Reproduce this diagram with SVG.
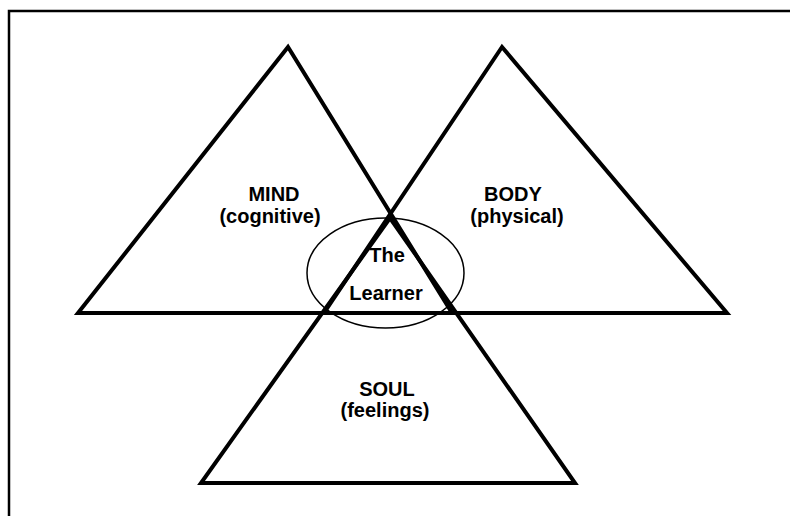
<svg xmlns="http://www.w3.org/2000/svg" width="790" height="516" viewBox="0 0 790 516">
<style>
.tri{fill:none;stroke:#000;stroke-width:4;stroke-linejoin:miter}
.lbl{font-family:"Liberation Sans",Arial,sans-serif;font-weight:bold;font-size:20px;fill:#000;text-anchor:middle}
</style>
<rect width="790" height="516" fill="#fff"/>
<polyline points="9,516 9,11 790,11" fill="none" stroke="#000" stroke-width="2.5"/>
<g id="mind">
<polygon class="tri" points="288,47 78,313 452,313"/>
<text class="lbl" x="274" y="201">MIND</text>
<text class="lbl" x="270" y="223">(cognitive)</text>
</g>
<g id="body">
<polygon class="tri" points="502,47 324,313 727,313"/>
<text class="lbl" x="513" y="201">BODY</text>
<text class="lbl" x="517" y="223">(physical)</text>
</g>
<g id="soul">
<polygon class="tri" points="390,218 201,483 575,483"/>
<text class="lbl" x="387" y="396">SOUL</text>
<text class="lbl" x="385" y="417">(feelings)</text>
</g>
<g id="learner">
<ellipse cx="385.5" cy="273" rx="78.5" ry="55" fill="none" stroke="#000" stroke-width="1.5"/>
<text class="lbl" x="387" y="262">The</text>
<text class="lbl" x="386" y="300">Learner</text>
</g>
</svg>
